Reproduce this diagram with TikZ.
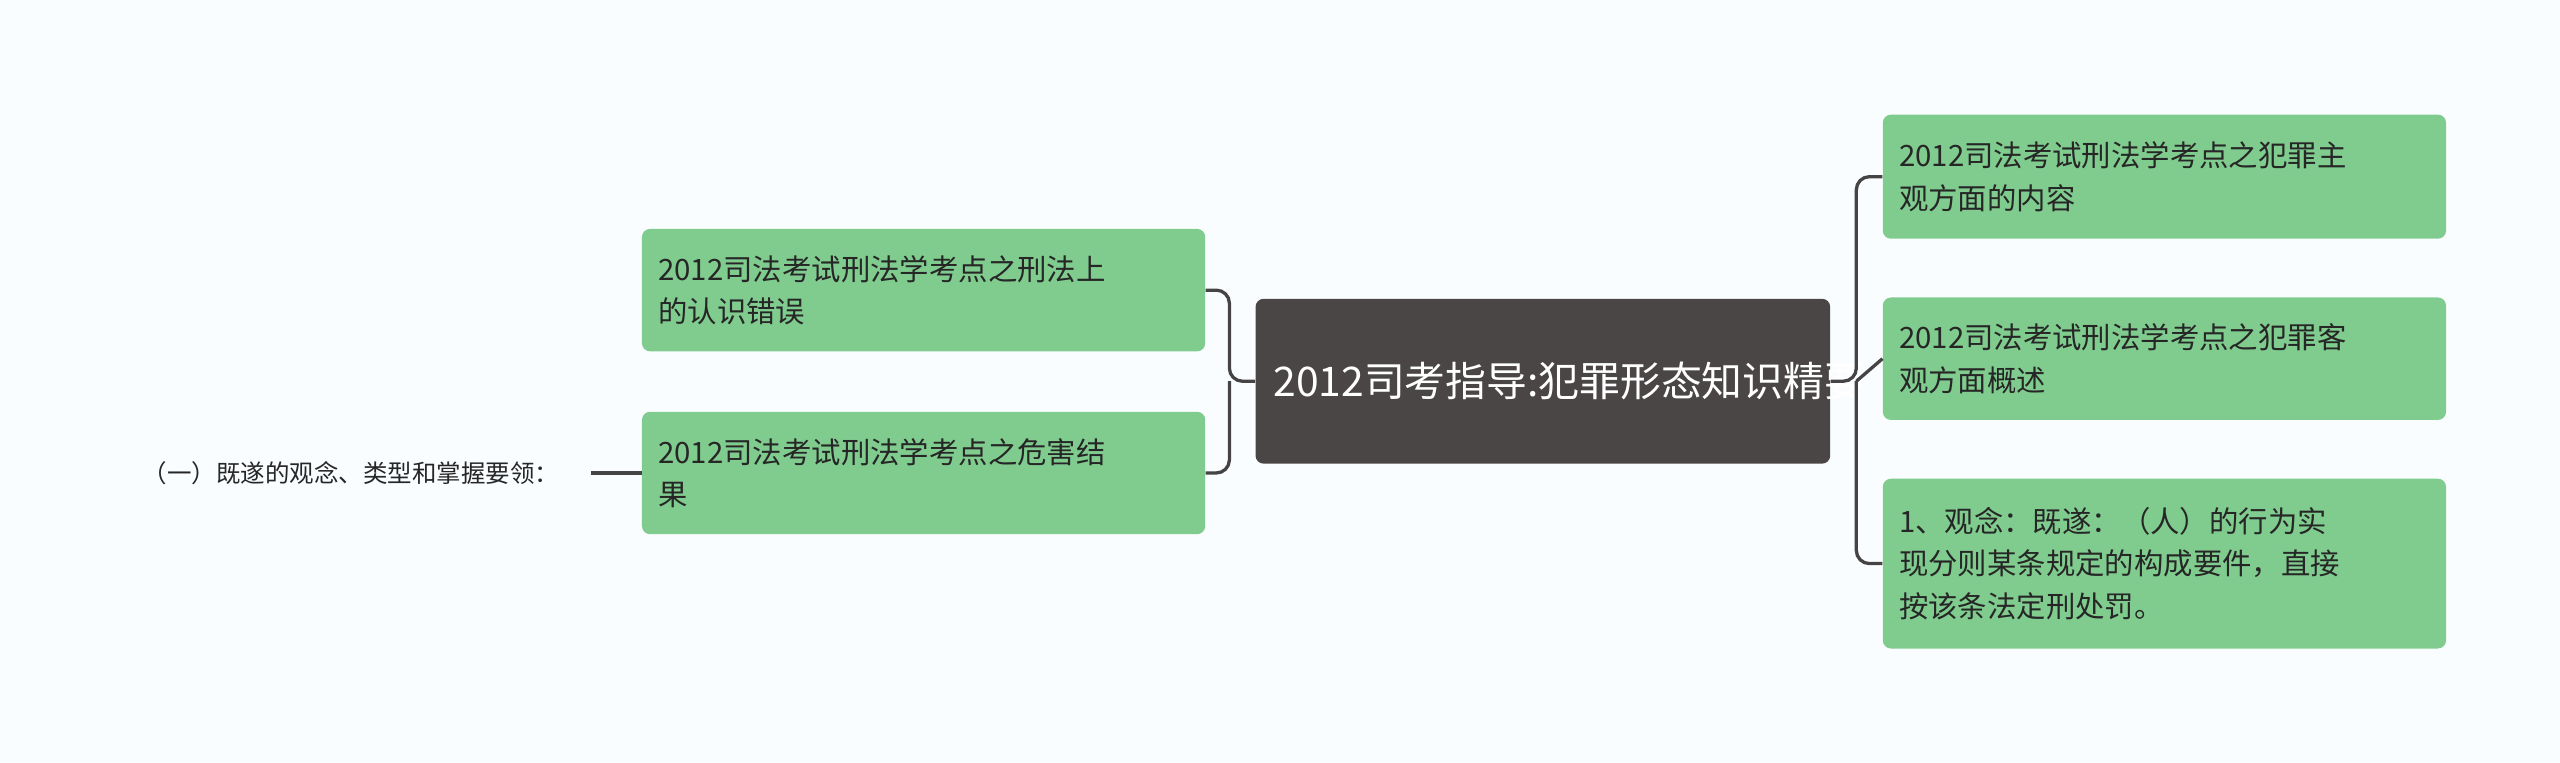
\documentclass[tikz,border=0pt]{standalone}
\usepackage{fontspec}
\setmainfont{Noto Sans CJK SC}
\begin{document}
\begin{tikzpicture}[x=1pt,y=-1pt,
  leaf/.style={fill=leafgreen,rounded corners=5pt,minimum width=345pt,text width=325pt,align=left,inner sep=10pt,font=\fontsize{18}{26}\selectfont,text=black!85,anchor=north west},
  conn/.style={draw=linegray,line width=2pt,rounded corners=8pt}]
\definecolor{leafgreen}{HTML}{80CC8F}
\definecolor{linegray}{HTML}{454343}
\definecolor{centerdark}{HTML}{4A4646}
\fill[white!98!cyan] (0,0) rectangle (1568,467);
\useasboundingbox (0,0) rectangle (1568,467);
\node[fill=centerdark,rounded corners=5pt,minimum width=352pt,minimum height=101pt,text width=330pt,align=center,text=white,font=\fontsize{25}{34}\selectfont] (c) at (945,233.5) {2012司考指导:犯罪形态知识精要};
\node[leaf,minimum height=75pt] (l1) at (393,140) {2012司法考试刑法学考点之刑法上\\的认识错误};
\node[leaf,minimum height=75pt] (l2) at (393,252) {2012司法考试刑法学考点之危害结\\果};
\node[font=\fontsize{15}{18}\selectfont,text=black!85,anchor=east] (ll) at (346,290) {（一）既遂的观念、类型和掌握要领：};
\node[leaf,minimum height=76pt] (r1) at (1153,70) {2012司法考试刑法学考点之犯罪主\\观方面的内容};
\node[leaf,minimum height=75pt] (r2) at (1153,182) {2012司法考试刑法学考点之犯罪客\\观方面概述};
\node[leaf,minimum height=104pt] (r3) at (1153,293) {1、观念：既遂：（人）的行为实\\现分则某条规定的构成要件，直接\\按该条法定刑处罚。};
\coordinate (jl) at (753,233.5);
\coordinate (jr) at (1137,233.5);
\draw[conn] (c.west) -- (jl) |- (l1.east);
\draw[conn] (jl) |- (l2.east);
\draw[conn] (c.east) -- (jr) |- (r1.west);
\draw[conn] (jr) -- (r2.west);
\draw[conn] (jr) |- (r3.west);
\draw[conn] (l2.west) -- ++(-31,0) coordinate (e);
\end{tikzpicture}
\end{document}
